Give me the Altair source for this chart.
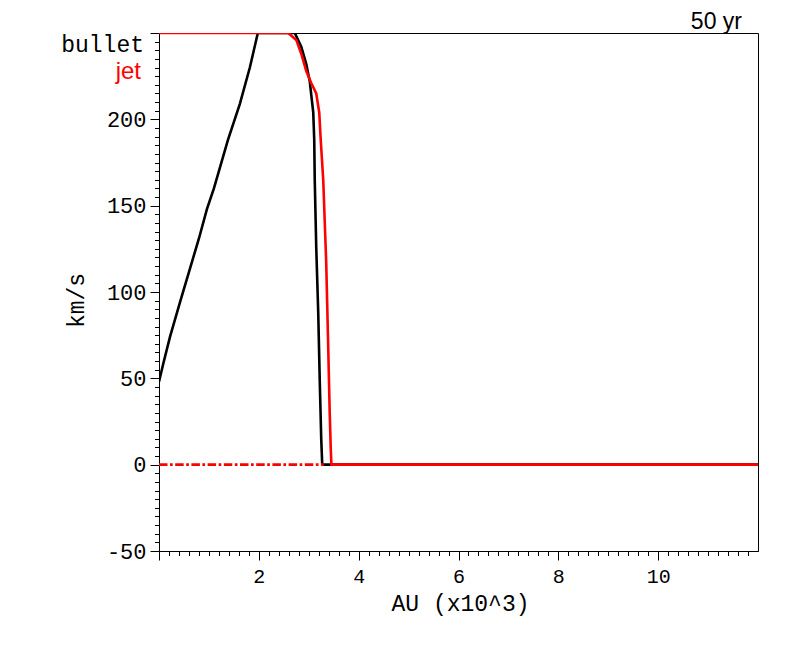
import altair as alt
import pandas as pd

# bullet (black) velocity profile, x in 10^3 AU, y in km/s
bullet_x = [0, 0.09, 0.22, 0.43, 0.8, 0.96, 1.1, 1.38, 1.62, 1.82, 1.98, 2.68, 2.72, 2.85, 2.95, 3.02,
            3.09, 3.11, 3.12, 3.15, 3.19, 3.22, 3.25, 3.27, 12]
bullet_y = [48, 59, 74, 95, 131, 148, 160, 188, 209, 230, 250, 250, 250, 242, 232, 222,
            204, 188, 165, 126, 88, 49, 15, 0, 0]

# jet (red) velocity profile
jet_x = [0, 2.59, 2.75, 2.85, 2.95, 3.05, 3.15, 3.21, 3.24, 3.29, 3.35, 3.39, 3.42, 3.44, 3.454, 12]
jet_y = [250, 250, 246, 238, 228, 221, 215, 204, 188, 165, 117, 68, 30, 10, 0, 0]

# dash-dot red baseline
dashdot_x = [0, 3.3]
dashdot_y = [0, 0]

x_ticks = [round(i * 0.2, 1) for i in range(0, 60)]
y_ticks = list(range(-50, 251, 5))

bullet_df = pd.DataFrame({"x": bullet_x, "y": bullet_y, "i": range(len(bullet_x))})
jet_df = pd.DataFrame({"x": jet_x, "y": jet_y, "i": range(len(jet_x))})
dd_df = pd.DataFrame({"x": dashdot_x, "y": dashdot_y, "i": range(len(dashdot_x))})

MONO = "Liberation Mono"
SANS = "Liberation Sans"

xscale = alt.Scale(domain=[0, 12], nice=False, zero=False)
yscale = alt.Scale(domain=[-50, 250], nice=False, zero=False)

x_major = "abs(datum.value - 2*round(datum.value/2)) < 0.001"
xaxis = alt.Axis(
    values=x_ticks, tickCount=500,
    title="AU (x10^3)",
    titleFont=MONO, titleFontSize=23, titleFontWeight="normal", titleColor="black",
    titleX=301, titleY=52, titleBaseline="middle", titleAnchor="start", titleAlign="center",
    labelFont=MONO, labelFontSize=20, labelColor="black", labelPadding=6,
    labelOverlap=False, labelFlush=False,
    labelExpr=f"({x_major}) && datum.value > 0.5 && datum.value < 11 ? '' + round(datum.value) : ''",
    tickSize={"condition": {"test": x_major, "value": 9}, "value": 4.5},
    tickColor="black", tickWidth=1, domainColor="black", domainWidth=1, grid=False,
)

y_major = "datum.value % 50 === 0"
yaxis = alt.Axis(
    values=y_ticks, tickCount=500,
    title="km/s",
    titleFont=MONO, titleFontSize=23, titleFontWeight="normal", titleColor="black",
    titleX=-83, titleY=267, titleBaseline="middle", titleAlign="center", titleAngle=-90,
    labelFont=MONO, labelFontSize=22, labelColor="black", labelPadding=4,
    labelOverlap=False, labelFlush=False,
    labelExpr=f"({y_major}) && datum.value < 250 ? '' + datum.value : ''",
    tickSize={"condition": {"test": y_major, "value": 9}, "value": 4.5},
    tickColor="black", tickWidth=1, domainColor="black", domainWidth=1, grid=False,
)

bullet = alt.Chart(bullet_df).mark_line(color="black", strokeWidth=2.6, clip=True).encode(
    x=alt.X("x:Q", scale=xscale, axis=xaxis),
    y=alt.Y("y:Q", scale=yscale, axis=yaxis),
    order="i:Q",
)

dashdot = alt.Chart(dd_df).mark_line(color="red", strokeWidth=2.6, strokeDash=[8.5, 2.5, 2.7, 2.5], clip=True).encode(
    x="x:Q", y="y:Q", order="i:Q"
)

jet = alt.Chart(jet_df).mark_line(color="red", strokeWidth=2.6, clip=True).encode(
    x="x:Q", y="y:Q", order="i:Q"
)

lab_bullet = alt.Chart(pd.DataFrame({"t": ["bullet"]})).mark_text(
    font=MONO, fontSize=23, color="black", align="right", baseline="alphabetic"
).encode(text="t:N", x=alt.value(-15), y=alt.value(19))

lab_jet = alt.Chart(pd.DataFrame({"t": ["jet"]})).mark_text(
    font=SANS, fontSize=24, color="red", align="right", baseline="alphabetic"
).encode(text="t:N", x=alt.value(-18), y=alt.value(46))

lab_time = alt.Chart(pd.DataFrame({"t": ["50 yr"]})).mark_text(
    font=SANS, fontSize=23, color="black", align="right", baseline="alphabetic"
).encode(text="t:N", x=alt.value(583), y=alt.value(-4))

chart = alt.layer(bullet, dashdot, jet, lab_bullet, lab_jet, lab_time).properties(
    width=599, height=518,
    autosize=alt.AutoSizeParams(type="none"),
    padding={"left": 151, "top": 25, "right": 30, "bottom": 90},
    background="white",
).configure_view(stroke="black", strokeWidth=1)

chart.save("out.html", embed_options={"renderer": "svg", "actions": False})
